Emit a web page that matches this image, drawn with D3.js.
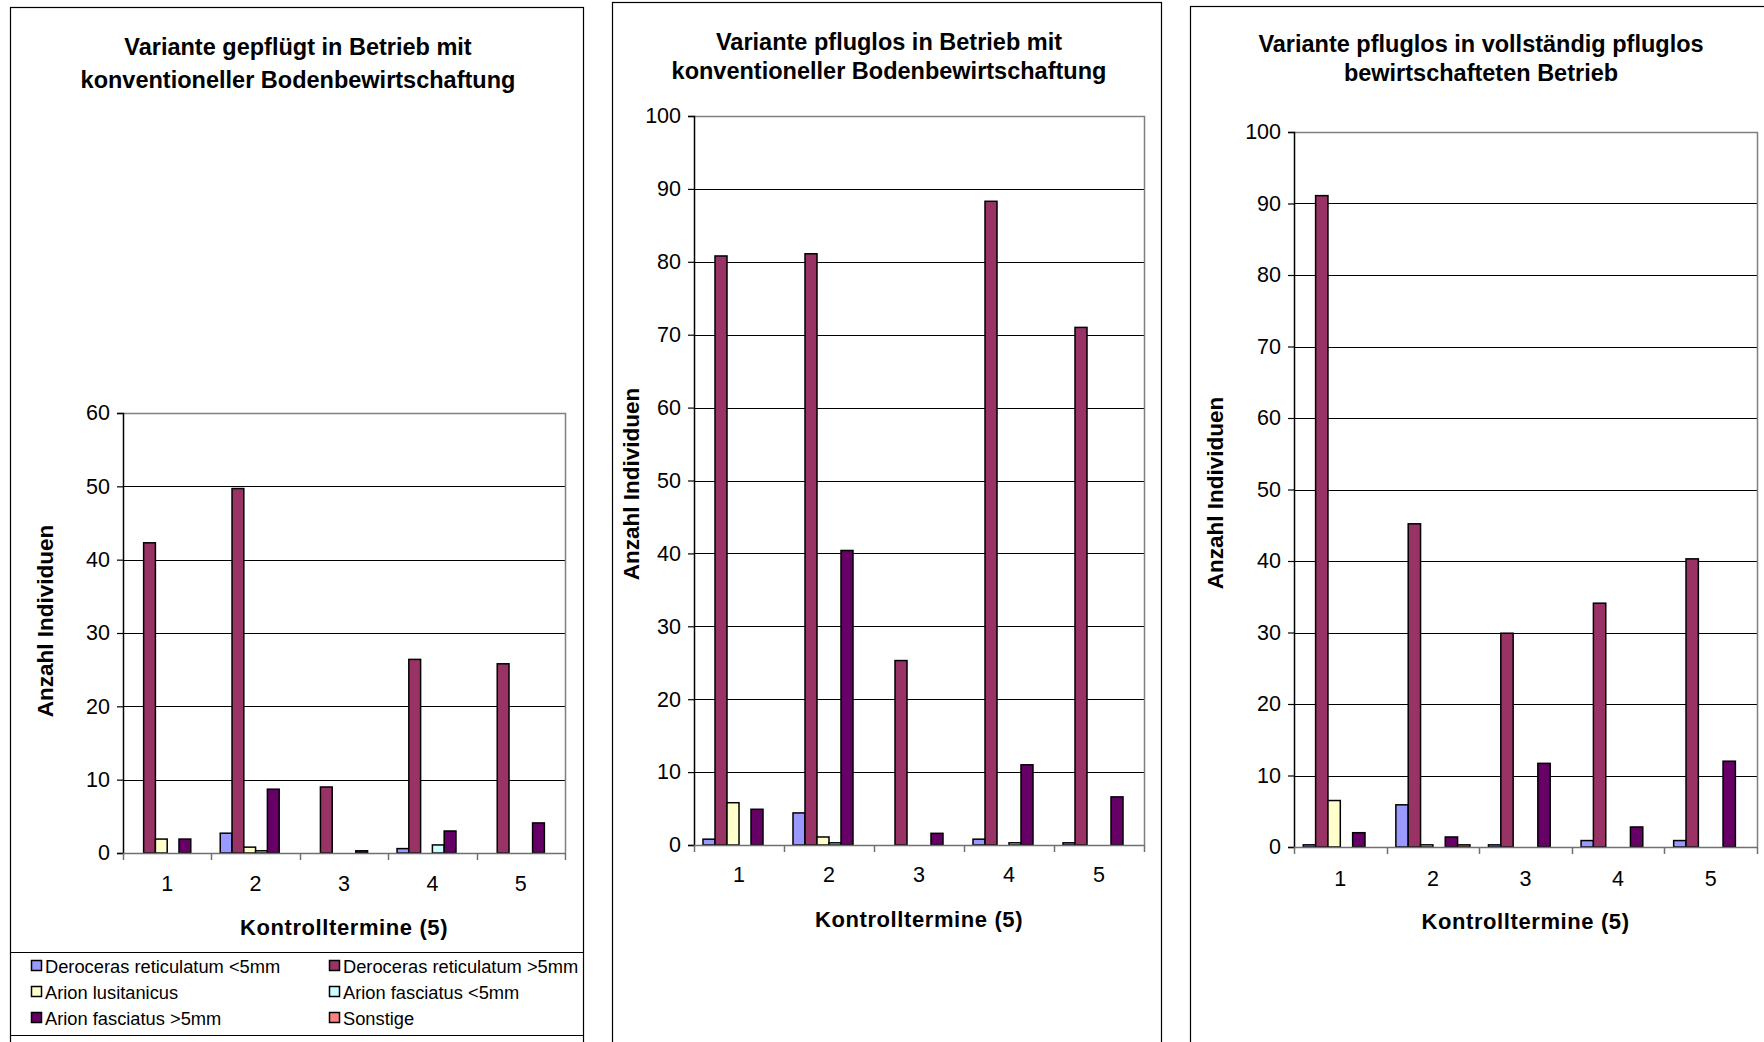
<!DOCTYPE html>
<html>
<head>
<meta charset="utf-8">
<script src="https://cdn.jsdelivr.net/npm/d3@7/dist/d3.min.js"></script>
<style>
  html, body { margin: 0; padding: 0; background: #fff; }
  svg { display: block; }
  text { font-family: "Liberation Sans", Arial, sans-serif; fill: #000; }
</style>
</head>
<body>
<svg id="chart" width="1764" height="1042"></svg>
<script>
// ---------------- DATA ----------------
const categories = ["1", "2", "3", "4", "5"];
const seriesNames = [
  "Deroceras reticulatum <5mm",
  "Deroceras reticulatum >5mm",
  "Arion lusitanicus",
  "Arion fasciatus <5mm",
  "Arion fasciatus >5mm",
  "Sonstige"
];
const seriesColors = ["#9999FF", "#993366", "#FFFFCC", "#CCFFFF", "#660066", "#FF8080"];

const panelTitles = [
  ["Variante gepflügt in Betrieb mit", "konventioneller Bodenbewirtschaftung"],
  ["Variante pfluglos in Betrieb mit", "konventioneller Bodenbewirtschaftung"],
  ["Variante pfluglos in vollständig pfluglos", "bewirtschafteten Betrieb"]
];
const yAxisTitle = "Anzahl Individuen";
const xAxisTitle = "Kontrolltermine (5)";

const yTicksPanel1 = [0, 10, 20, 30, 40, 50, 60];
const yTicksPanel2 = [0, 10, 20, 30, 40, 50, 60, 70, 80, 90, 100];
const yTicksPanel3 = [0, 10, 20, 30, 40, 50, 60, 70, 80, 90, 100];

// panel 1: gepflügt, konventionell
const p1DerocerasSmall = [0, 2.7, 0, 0.6, 0];
const p1DerocerasLarge = [42.3, 49.7, 9.0, 26.4, 25.8];
const p1ArionLusitanicus = [1.9, 0.8, 0, 0, 0];
const p1ArionFasciatusSmall = [0, 0.3, 0, 1.1, 0];
const p1ArionFasciatusLarge = [1.9, 8.7, 0.3, 3.0, 4.1];
const p1Sonstige = [0, 0, 0, 0, 0];

// panel 2: pfluglos, konventionell
const p2DerocerasSmall = [0.8, 4.4, 0, 0.8, 0.3];
const p2DerocerasLarge = [80.8, 81.1, 25.3, 88.3, 71.0];
const p2ArionLusitanicus = [5.8, 1.1, 0, 0, 0];
const p2ArionFasciatusSmall = [0, 0.3, 0, 0.3, 0];
const p2ArionFasciatusLarge = [4.9, 40.4, 1.6, 11.0, 6.6];
const p2Sonstige = [0, 0, 0, 0, 0];

// panel 3: pfluglos, vollständig pfluglos
const p3DerocerasSmall = [0.3, 5.9, 0.3, 0.9, 0.9];
const p3DerocerasLarge = [91.1, 45.2, 29.9, 34.1, 40.3];
const p3ArionLusitanicus = [6.5, 0.3, 0, 0, 0];
const p3ArionFasciatusSmall = [0, 0, 0, 0, 0];
const p3ArionFasciatusLarge = [2.0, 1.4, 11.7, 2.8, 12.0];
const p3Sonstige = [0, 0.3, 0, 0, 0];

// ---------------- LAYOUT ----------------
const svg = d3.select("#chart");
svg.append("rect").attr("width", 1764).attr("height", 1042).attr("fill", "#fff");

const panels = [
  {
    title: panelTitles[0],
    series: [p1DerocerasSmall, p1DerocerasLarge, p1ArionLusitanicus, p1ArionFasciatusSmall, p1ArionFasciatusLarge, p1Sonstige],
    yTicks: yTicksPanel1, yMax: 60,
    frame: { x: 10, y: 7, w: 573, h: 1100 },
    plot: { l: 123, r: 565, t: 413, b: 853 },
    titleX: 298, titleY: [47, 80],
    yTitle: { x: 45, y: 621 },
    xLabelY: 884, xTitleY: 927,
    legend: true
  },
  {
    title: panelTitles[1],
    series: [p2DerocerasSmall, p2DerocerasLarge, p2ArionLusitanicus, p2ArionFasciatusSmall, p2ArionFasciatusLarge, p2Sonstige],
    yTicks: yTicksPanel2, yMax: 100,
    frame: { x: 612, y: 2, w: 549, h: 1100 },
    plot: { l: 694, r: 1144, t: 116, b: 845 },
    titleX: 889, titleY: [42, 71],
    yTitle: { x: 631, y: 484 },
    xLabelY: 875, xTitleY: 919,
    legend: false
  },
  {
    title: panelTitles[2],
    series: [p3DerocerasSmall, p3DerocerasLarge, p3ArionLusitanicus, p3ArionFasciatusSmall, p3ArionFasciatusLarge, p3Sonstige],
    yTicks: yTicksPanel3, yMax: 100,
    frame: { x: 1190, y: 6, w: 700, h: 1100 },
    plot: { l: 1294, r: 1757, t: 132, b: 847 },
    titleX: 1481, titleY: [44, 73],
    yTitle: { x: 1215, y: 493 },
    xLabelY: 879, xTitleY: 921,
    legend: false
  }
];

panels.forEach(drawPanel);

function drawPanel(p) {
  const g = svg.append("g");

  // outer chart frame
  g.append("rect")
    .attr("x", p.frame.x + 0.5).attr("y", p.frame.y + 0.5)
    .attr("width", p.frame.w).attr("height", p.frame.h)
    .attr("fill", "none").attr("stroke", "#000").attr("stroke-width", 1.2);

  // title
  g.append("text")
    .attr("x", p.titleX).attr("text-anchor", "middle")
    .attr("font-size", 23.5).attr("font-weight", "bold")
    .selectAll("tspan").data(p.title).join("tspan")
    .attr("x", p.titleX).attr("y", (d, i) => p.titleY[i])
    .attr("dominant-baseline", "central")
    .text(d => d);

  const x0 = d3.scaleBand().domain(categories).range([p.plot.l, p.plot.r]).paddingInner(0).paddingOuter(0);
  const bw = x0.bandwidth();
  const barW = bw / 7.5; // Excel gap width 150%
  const x1 = d3.scaleBand().domain(d3.range(seriesNames.length))
    .range([0.75 * barW, 0.75 * barW + 6 * barW]).padding(0);
  const y = d3.scaleLinear().domain([0, p.yMax]).range([p.plot.b, p.plot.t]);

  // gridlines
  g.append("g").selectAll("line").data(p.yTicks.filter(t => t > 0 && t < p.yMax)).join("line")
    .attr("x1", p.plot.l).attr("x2", p.plot.r)
    .attr("y1", d => Math.round(y(d)) + 0.5).attr("y2", d => Math.round(y(d)) + 0.5)
    .attr("stroke", "#000").attr("stroke-width", 1);

  // plot area border (top & right)
  g.append("path")
    .attr("d", `M${p.plot.l},${Math.round(y(p.yMax)) + 0.5}H${p.plot.r + 0.5}V${p.plot.b}`)
    .attr("fill", "none").attr("stroke", "#808080").attr("stroke-width", 1.5);

  // bars
  const barData = [];
  p.series.forEach((vals, si) => {
    vals.forEach((v, ci) => {
      if (v > 0) barData.push({ si, cat: categories[ci], v });
    });
  });
  g.append("g").selectAll("rect").data(barData).join("rect")
    .attr("x", d => x0(d.cat) + x1(d.si))
    .attr("width", x1.bandwidth())
    .attr("y", d => y(d.v))
    .attr("height", d => y(0) - y(d.v))
    .attr("fill", d => seriesColors[d.si])
    .attr("stroke", "#000").attr("stroke-width", 1.5);

  // y axis
  const yAxis = d3.axisLeft(y).tickValues(p.yTicks).tickSize(6).tickPadding(7).tickFormat(d3.format("d"));
  const ya = g.append("g").attr("transform", `translate(${p.plot.l},0)`).call(yAxis);
  ya.select(".domain").attr("stroke", "#000").attr("stroke-width", 1.5);
  ya.selectAll(".tick line").attr("stroke", "#000").attr("stroke-width", 1.2);
  ya.selectAll(".tick text").attr("font-size", 21.5).attr("font-family", "Liberation Sans, Arial, sans-serif").attr("fill", "#000");

  // x axis (tick marks at category boundaries)
  const xa = g.append("g").attr("transform", `translate(0,${p.plot.b})`);
  xa.append("line").attr("x1", p.plot.l).attr("x2", p.plot.r + 0.5).attr("y1", 0.5).attr("y2", 0.5)
    .attr("stroke", "#707070").attr("stroke-width", 1.5);
  const bounds = categories.map(c => x0(c)).concat([p.plot.r]);
  xa.selectAll("line.tk").data(bounds).join("line").attr("class", "tk")
    .attr("x1", d => Math.round(d) + 0.5).attr("x2", d => Math.round(d) + 0.5)
    .attr("y1", 0).attr("y2", 7)
    .attr("stroke", "#707070").attr("stroke-width", 1.5);
  g.append("g").selectAll("text").data(categories).join("text")
    .attr("x", d => x0(d) + bw / 2).attr("y", p.xLabelY)
    .attr("text-anchor", "middle").attr("dominant-baseline", "central")
    .attr("font-size", 21.5).text(d => d);

  // axis titles
  g.append("text")
    .attr("x", (p.plot.l + p.plot.r) / 2).attr("y", p.xTitleY)
    .attr("text-anchor", "middle").attr("dominant-baseline", "central")
    .attr("font-size", 22).attr("font-weight", "bold").attr("letter-spacing", 0.6)
    .text(xAxisTitle);
  g.append("text")
    .attr("transform", `translate(${p.yTitle.x},${p.yTitle.y}) rotate(-90)`)
    .attr("text-anchor", "middle").attr("dominant-baseline", "central")
    .attr("font-size", 22.5).attr("font-weight", "bold")
    .text(yAxisTitle);

  if (p.legend) {
    // legend box lines
    g.append("line").attr("x1", p.frame.x).attr("x2", p.frame.x + p.frame.w + 0.5)
      .attr("y1", 952.5).attr("y2", 952.5).attr("stroke", "#000").attr("stroke-width", 1.2);
    g.append("line").attr("x1", p.frame.x).attr("x2", p.frame.x + p.frame.w + 0.5)
      .attr("y1", 1035.5).attr("y2", 1035.5).attr("stroke", "#000").attr("stroke-width", 1.2);
    const colX = [31, 329];
    const rowY = [966, 992, 1018];
    const items = g.append("g").selectAll("g").data(seriesNames).join("g")
      .attr("transform", (d, i) => `translate(${colX[i % 2]},${rowY[Math.floor(i / 2)]})`);
    items.append("rect").attr("x", 0.5).attr("y", -5.5).attr("width", 10).attr("height", 10)
      .attr("fill", (d, i) => seriesColors[i]).attr("stroke", "#000").attr("stroke-width", 1.5);
    items.append("text").attr("x", 14).attr("y", 0).attr("dominant-baseline", "central")
      .attr("font-size", 18.3).text(d => d);
  }
}
</script>
</body>
</html>
